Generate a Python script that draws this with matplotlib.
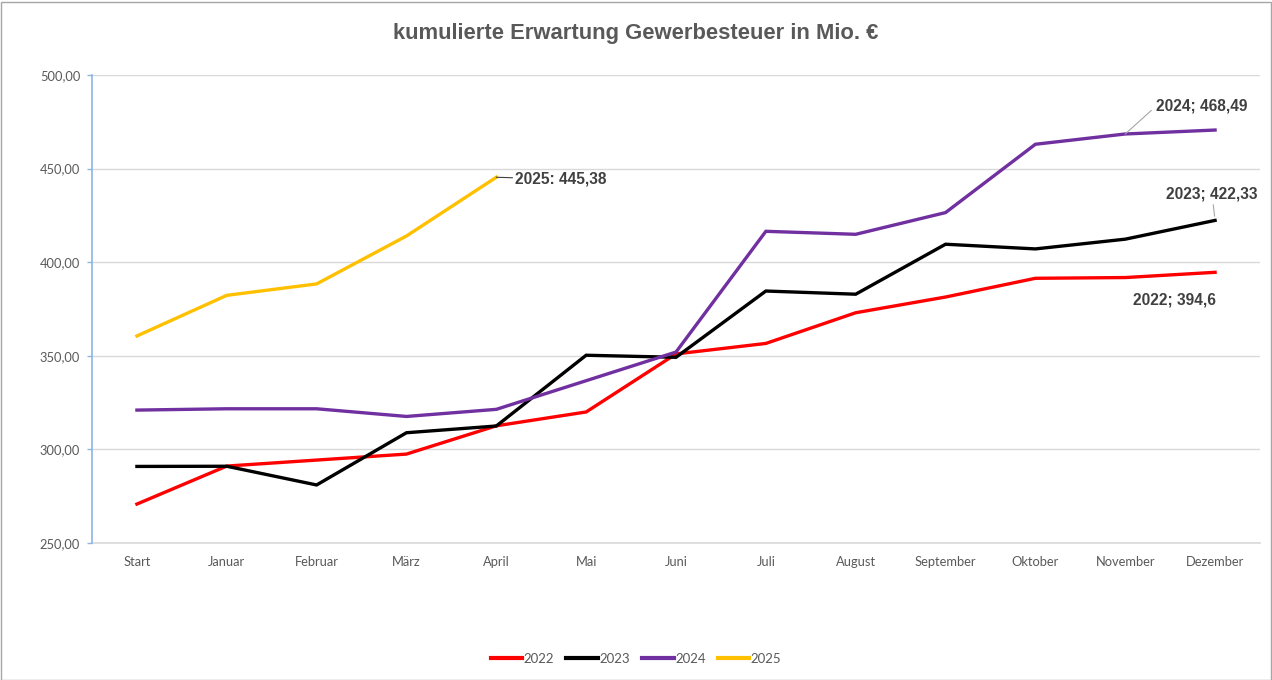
import matplotlib
matplotlib.use("Agg")
import matplotlib.pyplot as plt
from matplotlib.patches import Rectangle
from matplotlib.ticker import FuncFormatter, MultipleLocator

months = ["Start", "Januar", "Februar", "März", "April", "Mai", "Juni", "Juli",
          "August", "September", "Oktober", "November", "Dezember"]
v2022 = [270.8, 291.1, 294.3, 297.5, 312.6, 320.0, 351.0, 356.6, 373.0, 381.4, 391.4, 391.8, 394.6]
v2023 = [290.9, 291.0, 281.0, 308.9, 312.5, 350.3, 349.2, 384.6, 382.9, 409.6, 407.1, 412.3, 422.33]
v2024 = [321.0, 321.7, 321.7, 317.6, 321.4, 336.7, 352.0, 416.5, 414.9, 426.5, 463.0, 468.49, 470.6]
v2025 = [360.6, 382.3, 388.4, 414.0, 445.38]

series = [("2022", v2022, "#FF0000"), ("2023", v2023, "#000000"),
          ("2024", v2024, "#7030A0"), ("2025", v2025, "#FFC000")]

fig = plt.figure(figsize=(12.72, 6.8), dpi=100)
ax = fig.add_axes([92/1272, 1-543/680, (1260-92)/1272, (543-75)/680])

x = list(range(len(months)))
for name, vals, col in series:
    ax.plot(x[:len(vals)], vals, color=col, lw=2.4, label=name, solid_joinstyle="miter")

ax.set_xlim(-0.5, len(months) - 0.5)
ax.set_ylim(250, 500)
ax.yaxis.set_major_locator(MultipleLocator(50))
ax.yaxis.set_major_formatter(FuncFormatter(lambda v, p: f"{v:.2f}".replace(".", ",")))
ax.set_xticks(x)
ax.set_xticklabels(months)
ax.grid(axis="y", color="#D9D9D9", lw=1)
ax.axhline(250, color="#D9D9D9", lw=1.2, clip_on=False, zorder=0)
ax.set_axisbelow(True)
for s in ["top", "right", "bottom"]:
    ax.spines[s].set_visible(False)
ax.spines["left"].set_color("#8EB4E3")
ax.spines["left"].set_linewidth(1.2)
ax.tick_params(axis="y", colors="#8EB4E3", length=3.5, width=1, labelcolor="#595959",
               labelsize=9.3, pad=5)
ax.tick_params(axis="x", length=0, labelcolor="#595959", labelsize=9.3, pad=9)
for lab in ax.get_xticklabels() + ax.get_yticklabels():
    lab.set_fontfamily("Lato")

fig.text(0.5, 1 - 33/680, "kumulierte Erwartung Gewerbesteuer in Mio. €", ha="center",
         va="center", fontsize=15.8, fontweight="bold", color="#595959",
         family="Liberation Sans")

lblkw = dict(fontsize=11.2, fontweight="bold", color="#404040", family="Liberation Sans",
             textcoords="offset pixels")
ax.annotate("2025: 445,38", xy=(4, v2025[4]), xytext=(19, -2), ha="left", va="center",
            arrowprops=dict(arrowstyle="-", color="#404040", lw=0.8, shrinkA=0, shrinkB=0),
            **lblkw)
ax.annotate("2024; 468,49", xy=(11, v2024[11]), xytext=(31, 28), ha="left", va="center",
            arrowprops=dict(arrowstyle="-", color="#A6A6A6", lw=0.8, shrinkA=2, shrinkB=0,
                            relpos=(0, 0.5)),
            **lblkw)
ax.annotate("2023; 422,33", xy=(12, v2023[12]), xytext=(-3, 26), ha="center", va="center",
            arrowprops=dict(arrowstyle="-", color="#A6A6A6", lw=0.8, shrinkA=0, shrinkB=3),
            **lblkw)
ax.annotate("2022; 394,6", xy=(12, v2022[12]), xytext=(-41, -28), ha="center", va="center",
            **lblkw)

leg = fig.legend(loc="center", bbox_to_anchor=(0.5, 1 - 659/680), ncol=4, frameon=False,
                 handlelength=2.4, columnspacing=0.9, handletextpad=0.12,
                 prop={"family": "Lato", "size": 9.5})
for t in leg.get_texts():
    t.set_color("#595959")
for h in leg.get_lines():
    h.set_linewidth(3)

fig.add_artist(Rectangle((0.5/1272, 0.5/680), 1 - 2/1272, 1 - 2/680, transform=fig.transFigure,
                         fill=False, edgecolor="#A6A6A6", lw=1))

fig.savefig("out.png", dpi=100, facecolor="white")
